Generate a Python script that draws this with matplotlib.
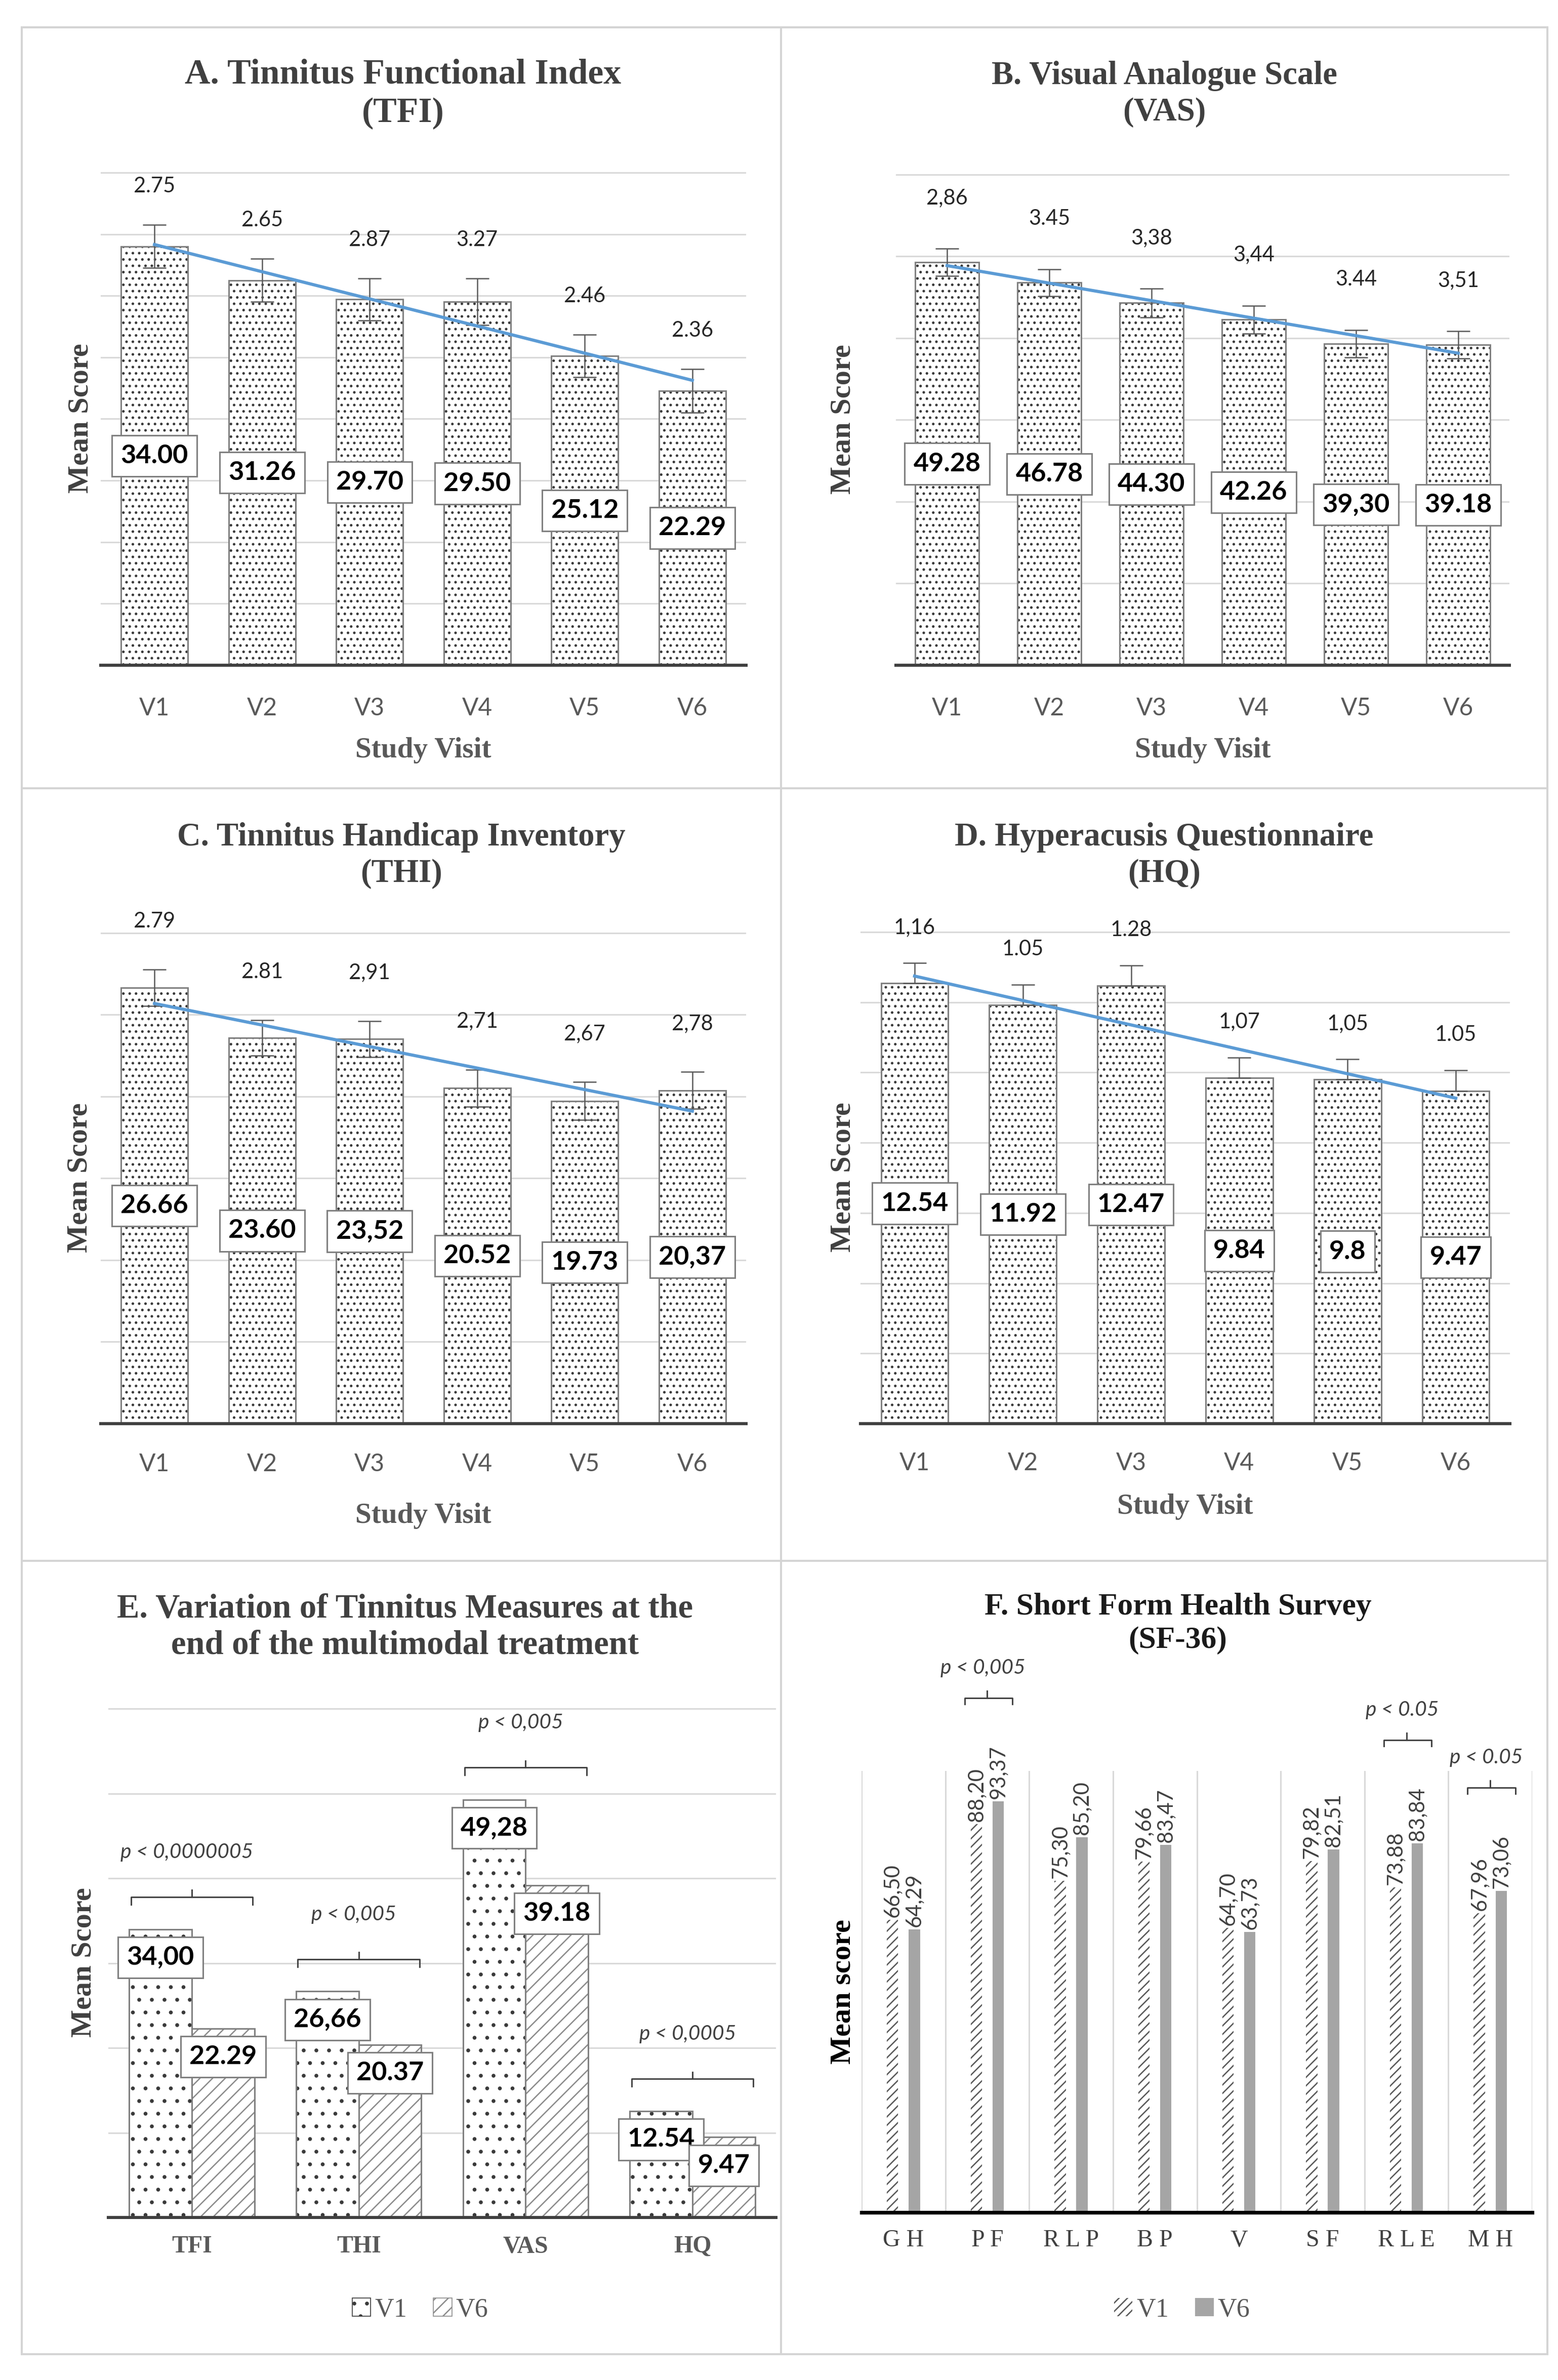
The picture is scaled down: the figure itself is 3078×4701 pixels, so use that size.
import numpy as np
import matplotlib
matplotlib.use("Agg")
import matplotlib.pyplot as plt
from matplotlib.patches import Patch
from matplotlib.lines import Line2D

W, H, DPI = 3078, 4701, 150
PT = 72.0 / DPI  # points per pixel

SERIF = "Liberation Serif"
SANS = "Lato"

# ---- data ----
visits = ["V1", "V2", "V3", "V4", "V5", "V6"]

tfi_means = ["34.00", "31.26", "29.70", "29.50", "25.12", "22.29"]
tfi_sd = ["2.75", "2.65", "2.87", "3.27", "2.46", "2.36"]
tfi_err = [1.75, 1.73, 1.71, 1.89, 1.73, 1.77]

vas_means = ["49.28", "46.78", "44.30", "42.26", "39,30", "39.18"]
vas_sd = ["2,86", "3.45", "3,38", "3,44", "3.44", "3,51"]
vas_err = [1.69, 1.63, 1.78, 1.72, 1.66, 1.69]

thi_means = ["26.66", "23.60", "23,52", "20.52", "19.73", "20,37"]
thi_sd = ["2.79", "2.81", "2,91", "2,71", "2,67", "2,78"]
thi_err = [1.11, 1.08, 1.10, 1.13, 1.16, 1.13]

hq_means = ["12.54", "11.92", "12.47", "9.84", "9.8", "9.47"]
hq_sd = ["1,16", "1.05", "1.28", "1,07", "1,05", "1.05"]
hq_err = [0.58, 0.58, 0.58, 0.59, 0.58, 0.59]

measures = ["TFI", "THI", "VAS", "HQ"]
meas_v1 = ["34,00", "26,66", "49,28", "12.54"]
meas_v6 = ["22.29", "20.37", "39.18", "9.47"]
meas_p = ["p < 0,0000005", "p < 0,005", "p < 0,005", "p < 0,0005"]

sf_scales = ["GH", "PF", "RLP", "BP", "V", "SF", "RLE", "MH"]
sf_v1 = ["66,50", "88,20", "75,30", "79,66", "64,70", "79,82", "73,88", "67,96"]
sf_v6 = ["64,29", "93,37", "85,20", "83,47", "63,73", "82,51", "83,84", "73,06"]
sf_p = {"PF": "p < 0,005", "RLE": "p < 0.05", "MH": "p < 0.05"}

# ---- styles ----
GRID = "#d9d9d9"
EDGE = "#808080"
DOT = "#3a3a3a"
BLUE = "#5b9bd5"
DARK = "#404040"
GRAY = "#595959"


def num(labels):
    return np.array([float(s.replace(",", ".")) for s in labels])


fig = plt.figure(figsize=(W / DPI, H / DPI), dpi=DPI)
plt.rcParams["hatch.linewidth"] = 1.25


def axes_px(left, top, right, bottom):
    return fig.add_axes([left / W, 1 - bottom / H, (right - left) / W, (bottom - top) / H])


def title(x, y, s, size, color=DARK):
    fig.text(x / W, 1 - y / H, s, ha="center", va="center", family=SERIF,
             fontweight="bold", fontsize=size, color=color, linespacing=1.25)


def style_axes(ax, n, ymax, step, tick_pad, base_color=DARK, base_lw=2.9, grid=True):
    ax.set_xlim(-0.5, n - 0.5)
    ax.set_ylim(0, ymax * 1.003)
    for side in ["left", "right", "top"]:
        ax.spines[side].set_visible(False)
    ax.spines["bottom"].set_color(base_color)
    ax.spines["bottom"].set_linewidth(base_lw)
    ax.spines["bottom"].set_zorder(7)
    if grid:
        ax.set_yticks(np.arange(0, ymax + step / 2, step))
        ax.grid(axis="y", color=GRID, lw=1.45)
    else:
        ax.set_yticks([])
    ax.set_yticklabels([])
    ax.set_axisbelow(True)
    ax.tick_params(axis="both", which="both", length=0)
    ax.tick_params(axis="x", pad=tick_pad)


def set_labels(ax, xlabel, ylabel, xl_dy, yl_dx, ax_w, ax_h, color=GRAY, ycolor=DARK):
    if xlabel:
        ax.set_xlabel(xlabel, family=SERIF, fontweight="bold", fontsize=27.5, color=color, va="center")
        ax.xaxis.set_label_coords(0.5, -xl_dy / ax_h)
    ax.set_ylabel(ylabel, family=SERIF, fontweight="bold", fontsize=28, color=ycolor,
                  va="center", ha="center")
    ax.yaxis.set_label_coords(-yl_dx / ax_w, 0.5)


def visit_panel(box, means, sd_labels, err, ymax, step, sd_off, tick_dy, xl_dy, yl_dx,
                upper_only=False):
    left, top, right, bottom = box
    ax = axes_px(left, top, right, bottom)
    vals = num(means)
    err = np.array(err)
    x = np.arange(len(visits))
    ax.bar(x, vals, 0.62, color="white", edgecolor=DOT, hatch="..", linewidth=0, zorder=2)
    ax.bar(x, vals, 0.62, fill=False, edgecolor=EDGE, linewidth=1.45, zorder=3)
    yerr = [np.zeros(len(err)), err] if upper_only else err
    ax.errorbar(x, vals, yerr=yerr, fmt="none", ecolor=GRAY, elinewidth=1.2,
                capsize=11, capthick=1.2, zorder=4)
    slope, icpt = np.polyfit(x, vals, 1)
    ends = x[[0, -1]]
    ax.plot(ends, icpt + slope * ends, color=BLUE, lw=3.0, zorder=5)
    for xi, t, s in zip(x, vals + err, sd_labels):
        ax.annotate(s, (xi, t), xytext=(0, sd_off * PT), textcoords="offset points",
                    ha="center", va="center", family=SANS, fontsize=20, color="#262626")
    for xi, v, s in zip(x, vals, means):
        ax.text(xi, v / 2, s, ha="center", va="center", family=SANS, fontsize=25,
                fontweight="bold", color="black", zorder=8,
                bbox=dict(boxstyle="square,pad=0.33", fc="white", ec=EDGE, lw=1.45))
    style_axes(ax, len(visits), ymax, step, tick_dy * PT)
    ax.set_xticks(x)
    ax.set_xticklabels(visits, family=SANS, fontsize=23, color=GRAY)
    for lab in ax.get_xticklabels():
        lab.set_va("center")
    set_labels(ax, "Study Visit", "Mean Score", xl_dy, yl_dx, right - left, bottom - top)
    return ax


# ---- panel frames ----
for xv in [43, 1543, 3057]:
    fig.add_artist(Line2D([xv / W, xv / W], [1 - 54 / H, 1 - 4650 / H], color="#d4d4d4", lw=1.9))
for yh in [54, 1557, 3083, 4650]:
    fig.add_artist(Line2D([43 / W, 3057 / W], [1 - yh / H, 1 - yh / H], color="#d4d4d4", lw=1.9))

# ---- A-D ----
visit_panel((199, 338, 1474, 1314), tfi_means, tfi_sd, tfi_err, 40, 5, 76, 85, 168, 40)
title(796, 186, "A. Tinnitus Functional Index\n(TFI)", 33.5)

visit_panel((1770, 342, 2982, 1314), vas_means, vas_sd, vas_err, 60, 10, 100, 85, 168, 104)
title(2300, 186, "B. Visual Analogue Scale\n(VAS)", 31)

visit_panel((199, 1840, 1474, 2812), thi_means, thi_sd, thi_err, 30, 5, 95, 80, 182, 42)
title(793, 1690, "C. Tinnitus Handicap Inventory\n(THI)", 31)

visit_panel((1700, 1838, 2983, 2812), hq_means, hq_sd, hq_err, 14, 2, 70, 78, 164, 34,
            upper_only=True)
title(2300, 1690, "D. Hyperacusis Questionnaire\n(HQ)", 31)

# ---- E ----
e_box = (214, 3372, 1533, 4380)
ax = axes_px(*e_box)
v1 = num(meas_v1)
v6 = num(meas_v6)
x = np.arange(len(measures))
bw = 0.375
ax.bar(x - bw / 2, v1, bw, color="white", edgecolor=DOT, hatch=".", linewidth=0, zorder=2)
ax.bar(x + bw / 2, v6, bw, color="white", edgecolor="#8c8c8c", hatch="//", linewidth=0, zorder=2)
ax.bar(x - bw / 2, v1, bw, fill=False, edgecolor=EDGE, linewidth=1.45, zorder=3)
ax.bar(x + bw / 2, v6, bw, fill=False, edgecolor=EDGE, linewidth=1.45, zorder=3)
for xs, vs, labs in [(x - bw / 2, v1, meas_v1), (x + bw / 2, v6, meas_v6)]:
    for xi, v, s in zip(xs, vs, labs):
        ax.annotate(s, (xi, v), xytext=(0, -56 * PT), textcoords="offset points",
                    ha="center", va="center", family=SANS, fontsize=25, fontweight="bold",
                    color="black", zorder=8,
                    bbox=dict(boxstyle="square,pad=0.33", fc="white", ec=EDGE, lw=1.45))
for xi, a, b, p in zip(x, v1, v6, meas_p):
    yb = max(a, b) + 3.8
    ax.plot([xi - 0.365, xi - 0.365, xi + 0.365, xi + 0.365], [yb - 0.9, yb, yb, yb - 0.9],
            color=DARK, lw=1.4, zorder=4)
    ax.plot([xi, xi], [yb, yb + 0.8], color=DARK, lw=1.4, zorder=4)
    ax.text(xi - 0.03, yb + 5.3, p, ha="center", va="center", family=SANS, style="italic",
            fontsize=19.5, color=DARK)
style_axes(ax, len(measures), 60, 10, 57 * PT)
ax.set_xticks(x)
ax.set_xticklabels(measures, family=SERIF, fontweight="bold", fontsize=23, color=GRAY)
for lab in ax.get_xticklabels():
    lab.set_va("center")
set_labels(ax, None, "Mean Score", 0, 49, e_box[2] - e_box[0], e_box[3] - e_box[1])
handles = [Patch(facecolor="white", edgecolor=DOT, hatch=".", lw=0.8, label="V1"),
           Patch(facecolor="white", edgecolor="#8c8c8c", hatch="//", lw=0.8, label="V6")]
fig.legend(handles=handles, loc="center", bbox_to_anchor=(830 / W, 1 - 4562 / H), ncol=2,
           frameon=False, handlelength=0.7, handleheight=0.7, handletextpad=0.15,
           columnspacing=1.0, prop={"family": SERIF, "size": 25}, labelcolor=GRAY)
title(800, 3214, "E. Variation of Tinnitus Measures at the\nend of the multimodal treatment", 32)

# ---- F ----
f_box = (1702, 3498, 3027, 4370)
ax = axes_px(*f_box)
s1 = num(sf_v1)
s6 = num(sf_v6)
x = np.arange(len(sf_scales))
fw, off = 0.135, 0.13
ax.bar(x - off, s1, fw, color="white", edgecolor=GRAY, hatch="///", linewidth=0, zorder=2)
ax.bar(x + off, s6, fw, color="#a5a5a5", linewidth=0, zorder=2)
for xs, vs, labs in [(x - off, s1, sf_v1), (x + off, s6, sf_v6)]:
    for xi, v, s in zip(xs, vs, labs):
        ax.annotate(s, (xi, v), xytext=(0, 5 * PT), textcoords="offset points", rotation=90,
                    ha="center", va="bottom", family=SANS, fontsize=20, color=DARK)
for i, name in enumerate(sf_scales):
    if name not in sf_p:
        continue
    yb = max(s1[i], s6[i]) + 23.5
    ax.plot([i - 0.27, i - 0.27, i + 0.3, i + 0.3], [yb - 1.4, yb, yb, yb - 1.4],
            color=DARK, lw=1.4, clip_on=False)
    ax.plot([i, i], [yb, yb + 1.6], color=DARK, lw=1.4, clip_on=False)
    ax.text(i - 0.05, yb + 6.8, sf_p[name], ha="center", va="center", family=SANS,
            style="italic", fontsize=19.5, color=DARK, clip_on=False)
style_axes(ax, len(sf_scales), 100, 10, 55 * PT, base_color="black", base_lw=3.5, grid=False)
ax.set_xticks(x)
ax.set_xticklabels([" ".join(s) for s in sf_scales], family=SERIF, fontsize=23, color=DARK)
for lab in ax.get_xticklabels():
    lab.set_va("center")
ax.set_xticks(np.arange(-0.5, len(sf_scales)), minor=True)
ax.grid(axis="x", which="minor", color=GRID, lw=1.45)
set_labels(ax, None, "Mean score", 0, 37, f_box[2] - f_box[0], f_box[3] - f_box[1],
           ycolor="black")
handles = [Patch(facecolor="white", edgecolor=GRAY, hatch="///", lw=0, label="V1"),
           Patch(facecolor="#a5a5a5", lw=0, label="V6")]
fig.legend(handles=handles, loc="center", bbox_to_anchor=(2335 / W, 1 - 4562 / H), ncol=2,
           frameon=False, handlelength=0.7, handleheight=0.7, handletextpad=0.15,
           columnspacing=1.0, prop={"family": SERIF, "size": 25}, labelcolor=GRAY)
title(2327, 3207, "F. Short Form Health Survey\n(SF-36)", 29.5, color="#1a1a1a")

fig.savefig("out.png", dpi=DPI, facecolor="white")
